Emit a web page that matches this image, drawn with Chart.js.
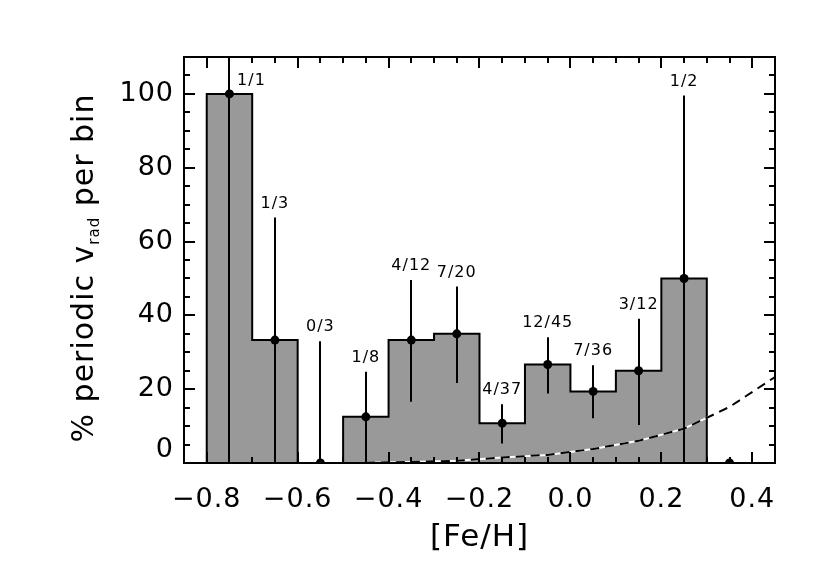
<!DOCTYPE html>
<html>
<head>
<meta charset="utf-8">
<script src="https://cdn.jsdelivr.net/npm/chart.js@4.4.1/dist/chart.umd.min.js"></script>
<style>
  html, body { margin: 0; padding: 0; background: #fff; }
</style>
</head>
<body>
<canvas id="grafico" width="830" height="581"></canvas>
<script>
// bins in [Fe/H], 0.1 dex wide
const binCenters  = [-0.75, -0.65, -0.55, -0.45, -0.35, -0.25, -0.15, -0.05, 0.05, 0.15, 0.25, 0.35];
const periodicPct = [100, 33.3, 0, 12.5, 33.3, 35.0, 10.8, 26.7, 19.4, 25.0, 50.0, 0];
const errLow      = [0, 0, 0, 0, 16.6, 21.7, 5.3, 18.8, 12.1, 10.3, 0, null];
const errHigh     = [125, 66.5, 33.0, 24.7, 49.6, 47.8, 15.9, 34.1, 26.5, 39.1, 99.6, null];
const countLabels = ['1/1', '1/3', '0/3', '1/8', '4/12', '7/20', '4/37', '12/45', '7/36', '3/12', '1/2', ''];

// dashed curve
const curveX = [-0.45, -0.35, -0.25, -0.15, -0.05, 0.05, 0.15, 0.25, 0.35, 0.45];
const curveY = [0.1, 0.3, 0.6, 1.5, 2.2, 3.8, 6.0, 9.3, 15.2, 23.3];

const xTicks = [-0.8, -0.6, -0.4, -0.2, 0.0, 0.2, 0.4];
const yTicks = [0, 20, 40, 60, 80, 100];
const xMinorStep = 0.05;
const yMinorStep = 5;

const FONT = 'DejaVu Sans';
const GRIGIO = 'rgb(153,153,153)';

// histogram outline: step line through bin left edges
const binWidth = 0.1;
const histPoints = [{ x: binCenters[0] - binWidth / 2, y: 0 }]
  .concat(binCenters.map((c, i) => ({ x: c - binWidth / 2, y: periodicPct[i] })))
  .concat([{ x: binCenters[binCenters.length - 1] + binWidth / 2, y: 0 }]);

const curvePoints = curveX.map((x, i) => ({ x, y: curveY[i] }));
const dotPoints = binCenters.map((x, i) => ({ x, y: periodicPct[i] }));

// slightly wider letter spacing, like the IDL fonts
const spaziatura = {
  id: 'spaziatura',
  beforeDraw(chart) { chart.ctx.letterSpacing = '1px'; }
};

// frame + inward ticks (IDL style)
const cornice = {
  id: 'cornice',
  afterDraw(chart) {
    const { ctx, chartArea: a, scales: { x, y } } = chart;
    ctx.save();
    ctx.strokeStyle = '#000';
    ctx.lineWidth = 2;
    ctx.beginPath();
    for (let v = x.min; v <= x.max + 1e-9; v += xMinorStep) {
      const r = Math.round(v * 100) / 100;
      if (r <= x.min + 1e-9 || r >= x.max - 1e-9) continue;
      const major = xTicks.some(t => Math.abs(t - r) < 1e-6);
      const len = major ? 11 : 6;
      const px = Math.round(x.getPixelForValue(r));
      ctx.moveTo(px, a.bottom); ctx.lineTo(px, a.bottom - len);
      ctx.moveTo(px, a.top); ctx.lineTo(px, a.top + len);
    }
    for (let v = 0; v <= y.max + 1e-9; v += yMinorStep) {
      if (v <= y.min || v >= y.max) continue;
      const major = yTicks.includes(v);
      const len = major ? 11 : 6;
      const py = Math.round(y.getPixelForValue(v));
      ctx.moveTo(a.left, py); ctx.lineTo(a.left + len, py);
      ctx.moveTo(a.right, py); ctx.lineTo(a.right - len, py);
    }
    ctx.stroke();
    ctx.strokeRect(a.left, a.top, a.right - a.left, a.bottom - a.top);
    ctx.restore();
  }
};

// error bars and count labels
const barreErrore = {
  id: 'barreErrore',
  afterDatasetsDraw(chart) {
    const { ctx, chartArea: a, scales: { x, y } } = chart;
    ctx.save();
    ctx.beginPath();
    ctx.rect(a.left, a.top, a.right - a.left, a.bottom - a.top);
    ctx.clip();
    ctx.strokeStyle = '#000';
    ctx.lineWidth = 2;
    binCenters.forEach((c, i) => {
      if (errHigh[i] == null) return;
      const px = Math.round(x.getPixelForValue(c));
      ctx.beginPath();
      ctx.moveTo(px, y.getPixelForValue(errLow[i]));
      ctx.lineTo(px, y.getPixelForValue(errHigh[i]));
      ctx.stroke();
    });
    ctx.restore();

    ctx.save();
    ctx.fillStyle = '#000';
    ctx.font = '16px "' + FONT + '"';
    ctx.textAlign = 'center';
    ctx.textBaseline = 'middle';
    binCenters.forEach((c, i) => {
      if (!countLabels[i]) return;
      const px = x.getPixelForValue(c);
      if (errHigh[i] >= y.max) {
        const py = y.getPixelForValue(periodicPct[i]);
        ctx.fillText(countLabels[i], px + 22, py - 13);
      } else {
        ctx.fillText(countLabels[i], px, y.getPixelForValue(errHigh[i]) - 14);
      }
    });
    ctx.restore();
  }
};

// y title with subscript
const titoloY = {
  id: 'titoloY',
  afterDraw(chart) {
    const { ctx, chartArea: a } = chart;
    const big = '30px "' + FONT + '"';
    const small = '15px "' + FONT + '"';
    const parts = [['% periodic v', big, 0], ['rad', small, 6], [' per bin', big, 0]];
    ctx.save();
    let total = 0;
    parts.forEach(p => { ctx.font = p[1]; total += ctx.measureText(p[0]).width; });
    ctx.translate(93, (a.top + a.bottom) / 2 + 8);
    ctx.rotate(-Math.PI / 2);
    ctx.fillStyle = '#000';
    ctx.textBaseline = 'alphabetic';
    ctx.textAlign = 'left';
    let cx = -total / 2;
    parts.forEach(p => {
      ctx.font = p[1];
      ctx.fillText(p[0], cx, p[2]);
      cx += ctx.measureText(p[0]).width;
    });
    ctx.restore();
  }
};

Chart.defaults.font.family = FONT;
Chart.defaults.color = '#000';

new Chart(document.getElementById('grafico').getContext('2d'), {
  type: 'scatter',
  data: {
    datasets: [
      {
        label: 'istogramma',
        data: histPoints,
        showLine: true,
        stepped: 'before',
        fill: 'origin',
        backgroundColor: GRIGIO,
        borderColor: '#000',
        borderWidth: 2,
        pointRadius: 0,
        clip: 0,
        order: 4
      },
      {
        label: 'curva fondo',
        data: curvePoints,
        showLine: true,
        borderColor: '#fff',
        borderWidth: 2,
        pointRadius: 0,
        clip: 0,
        order: 3
      },
      {
        label: 'curva',
        data: curvePoints,
        showLine: true,
        borderColor: '#000',
        borderWidth: 2,
        borderDash: [9, 6],
        pointRadius: 0,
        clip: 0,
        order: 2
      },
      {
        label: 'frazione',
        data: dotPoints,
        pointRadius: 4.5,
        pointBackgroundColor: '#000',
        pointBorderWidth: 0,
        clip: 0,
        order: 1
      }
    ]
  },
  options: {
    responsive: false,
    animation: false,
    devicePixelRatio: 1,
    layout: { padding: { left: 0, right: 55, top: 57, bottom: 0 } },
    plugins: { legend: { display: false }, tooltip: { enabled: false } },
    scales: {
      x: {
        type: 'linear',
        min: -0.85,
        max: 0.45,
        afterBuildTicks: s => { s.ticks = xTicks.map(v => ({ value: v })); },
        afterFit: s => { s.height = 118; },
        grid: { display: false },
        border: { display: false },
        ticks: {
          font: { size: 27 },
          padding: 13,
          maxRotation: 0,
          callback: v => (v < 0 ? '\u2212' : '') + Math.abs(v).toFixed(1)
        },
        title: {
          display: true,
          text: '[Fe/H]',
          font: { size: 31 },
          padding: { top: 0, bottom: 24 }
        }
      },
      y: {
        type: 'linear',
        min: 0,
        max: 110,
        afterBuildTicks: s => { s.ticks = yTicks.map(v => ({ value: v })); },
        afterFit: s => { s.width = 184; },
        grid: { display: false },
        border: { display: false },
        ticks: {
          font: { size: 27, lineHeight: 0.93 },
          padding: 2,
          // bottom label sits a bit above the axis, as in IDL
          callback: v => (v === 0 ? ['0', ''] : String(v))
        }
      }
    }
  },
  plugins: [spaziatura, barreErrore, cornice, titoloY]
});
</script>
</body>
</html>
